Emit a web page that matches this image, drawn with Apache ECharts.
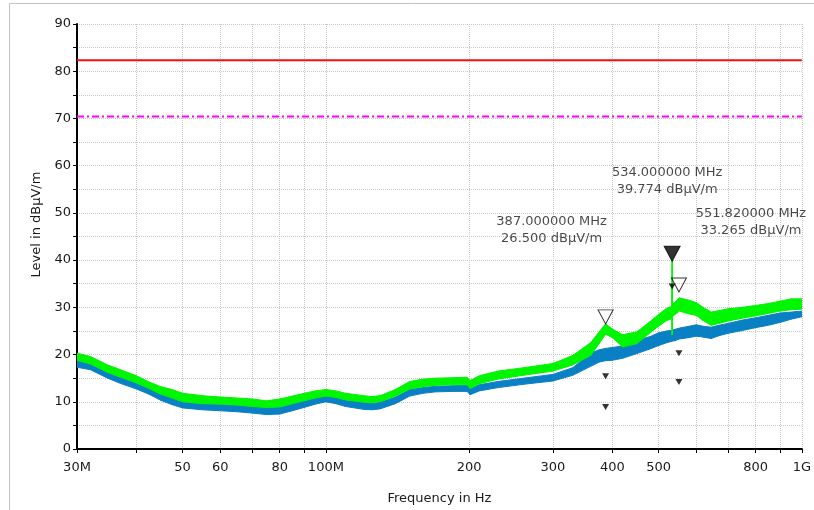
<!DOCTYPE html>
<html><head><meta charset="utf-8">
<script src="https://cdn.jsdelivr.net/npm/echarts@6.0.0/dist/echarts.min.js"></script>
<style>html,body{margin:0;padding:0;background:#fff}#c{width:814px;height:510px}</style>
</head><body><div id="c"></div>
<script>
// ---- data (frequencies in MHz, levels in dBµV/m) ----
const freqMHz = [30,32,34.8,37,40,42.5,45,47.5,50,55,60,65,70,75,80,85,90,95,100,105,110,120,125,130,140,150,160,170,185,198,201,210,230,260,300,330,360,375,387,400,420,450,480,500,520,533,534,535,540,553,580,600,620,645,670,700,750,800,850,900,950,1000];
const greenHigh = [20.3,19.6,17.8,16.8,15.5,14.2,13.2,12.6,11.8,11.3,11.0,10.8,10.6,10.2,10.6,11.2,11.8,12.3,12.6,12.3,11.8,11.3,11.1,11.3,12.6,14.3,14.8,15.0,15.1,15.2,14.5,15.5,16.5,17.2,18.1,19.8,22.5,24.8,26.5,25.4,24.2,24.8,27.0,28.5,29.8,30.2,39.8,30.8,31.0,32.0,31.5,31.0,30.0,29.0,29.3,29.7,30.0,30.4,30.8,31.3,31.8,31.8];
const greenLow  = [18.8,18.0,16.2,15.2,14.0,12.8,11.6,10.8,10.0,9.6,9.5,9.3,9.0,8.8,8.9,9.6,10.2,10.8,11.2,10.9,10.4,9.9,9.8,10.0,11.2,12.7,13.2,13.5,13.6,13.6,12.8,13.8,14.8,15.6,16.5,17.8,19.8,22.3,24.3,23.6,21.6,22.3,24.6,26.0,27.2,27.6,24.2,28.0,28.4,29.2,28.6,28.3,27.2,26.2,26.6,27.1,27.7,28.2,28.7,29.2,29.5,29.6];
const blueHigh  = [19.0,18.3,16.5,15.3,14.2,13.0,11.8,11.0,10.2,9.7,9.5,9.3,9.1,8.8,8.9,9.6,10.2,10.9,11.2,11.0,10.4,9.9,9.6,9.9,11.0,12.6,13.0,13.3,13.4,13.5,12.8,13.6,14.3,15.0,15.8,17.2,20.3,21.0,21.3,21.5,21.8,23.0,23.8,24.6,25.0,25.1,24.8,25.2,25.3,25.6,26.0,26.3,26.0,25.8,26.2,26.6,27.3,27.8,28.3,28.8,29.0,29.2];
const blueLow   = [17.3,16.8,15.0,13.9,12.7,11.6,10.3,9.4,8.7,8.3,8.1,7.9,7.6,7.3,7.4,8.1,8.8,9.5,10.0,9.6,9.0,8.4,8.3,8.5,9.6,11.2,11.8,12.1,12.2,12.2,11.5,12.3,13.0,13.7,14.4,15.6,17.5,18.4,18.7,18.8,19.2,20.2,21.2,21.9,22.5,22.8,22.8,22.9,22.9,23.3,23.6,23.9,23.7,23.4,24.0,24.5,25.1,25.7,26.2,26.8,27.5,28.0];

const limitFreq = [30, 1000];
const limitRed = [82.3, 82.3];
const limitRSS = [70.4, 70.4];
const limitRSSName = 'IC RSS123';

const tickFreq = [30,40,50,60,70,80,90,100,200,300,400,500,600,700,800,900,1000];
const labelFreq = [30,50,60,80,100,200,300,400,500,800,1000];
const labelText = ['30M','50','60','80','100M','200','300','400','500','800','1G'];

const markerFreq = [387, 534, 551.82];
const markerLevel = [26.5, 39.774, 33.265];
const markerFilled = [false, true, false];
const subMarkFreq = [387, 387, 551.82, 551.82, 534];
const subMarkLevel = [15.4, 8.9, 20.3, 14.2, 34.4];

// ---- build ----
const L = Math.log10;
const FONT = 'DejaVu Sans';
const TXT = '#1a1a1a';
const GREEN = '#00f500', BLUE = '#0a80c4';

const pts = (f, v) => f.map((x, i) => [L(x), v[i]]);
const bandRows = (lo, hi) => freqMHz.map((f, i) => [L(f), lo[i], hi[i]]);

function bandSeries(name, lo, hi, color) {
  const rows = bandRows(lo, hi);
  return {
    type: 'custom', name, data: rows, clip: true,
    encode: {x: 0, y: [1, 2]},
    renderItem: (params, api) => {
      const i = params.dataIndex;
      if (i >= rows.length - 1) return null;
      const a = rows[i], b = rows[i + 1];
      const p = [api.coord([a[0], a[2]]), api.coord([b[0], b[2]]), api.coord([b[0], b[1]]), api.coord([a[0], a[1]])];
      return {type: 'polygon', shape: {points: p}, style: {fill: color, stroke: color, lineWidth: 1}};
    }
  };
}

const markerLabelOffset = [[-54, -87], [-5, -73], [72, -63]];
const markerSize = [[15, 14], [16, 15], [15, 14]];

const markerData = markerFreq.map((f, i) => ({
  value: [L(f), markerLevel[i]],
  symbolSize: markerSize[i],
  symbolOffset: [0, -markerSize[i][1] / 2],
  itemStyle: markerFilled[i] ? {color: '#000', borderColor: '#000', borderWidth: 1}
                             : {color: 'rgba(255,255,255,0)', borderColor: '#000', borderWidth: 1},
  label: {
    show: true, position: 'inside', offset: markerLabelOffset[i],
    formatter: f.toFixed(6) + ' MHz\n' + markerLevel[i].toFixed(3) + ' dBµV/m',
    color: TXT, fontFamily: FONT, fontSize: 13, lineHeight: 17, align: 'center', verticalAlign: 'middle'
  }
}));

const chart = echarts.init(document.getElementById('c'), null, {renderer: 'canvas'});
chart.setOption({
  animation: false,
  backgroundColor: '#fff',
  graphic: [{type: 'rect', z: -10, shape: {x: 9.5, y: 3.5, width: 1200, height: 1200}, style: {fill: 'none', stroke: '#c4c4c4', lineWidth: 1}}],
  grid: {left: 77, right: 11, top: 24, bottom: 60},
  xAxis: {
    type: 'value', min: L(30), max: 3,
    name: 'Frequency in Hz', nameLocation: 'middle', nameGap: 43,
    nameTextStyle: {color: TXT, fontFamily: FONT, fontSize: 13},
    axisLine: {show: true, lineStyle: {color: '#000', width: 2}},
    axisTick: {show: true, length: 4, lineStyle: {color: '#000', width: 1}, customValues: tickFreq.map(L)},
    axisLabel: {color: TXT, fontFamily: FONT, fontSize: 13, margin: 12, customValues: labelFreq.map(L),
      formatter: v => { const i = labelFreq.indexOf(Math.round(Math.pow(10, v))); return i >= 0 ? labelText[i] : ''; }},
    splitLine: {show: true, lineStyle: {color: '#c8c8c8', type: [1, 1], width: 1}}
  },
  yAxis: {
    type: 'value', min: 0, max: 90, interval: 10,
    name: 'Level in dBµV/m', nameLocation: 'middle', nameGap: 32, nameRotate: 90,
    nameTextStyle: {color: TXT, fontFamily: FONT, fontSize: 13, padding: [0, 0, 0, 24]},
    axisLine: {show: true, lineStyle: {color: '#000', width: 2}},
    axisTick: {show: true, length: 4, lineStyle: {color: '#000'}},
    minorTick: {show: true, splitNumber: 2, length: 4, lineStyle: {color: '#000'}},
    axisLabel: {color: TXT, fontFamily: FONT, fontSize: 13, margin: 6},
    splitLine: {show: true, lineStyle: {color: '#c8c8c8', type: [1, 1]}},
    minorSplitLine: {show: true, lineStyle: {color: '#c8c8c8', type: [1, 1]}}
  },
  series: [
    bandSeries('average', blueLow, blueHigh, BLUE),
    bandSeries('peak', greenLow, greenHigh, GREEN),
    {type: 'line', name: 'limitRed', data: pts(limitFreq, limitRed), symbol: 'none',
     lineStyle: {color: '#f01010', width: 2}},
    {type: 'line', name: limitRSSName, data: pts(limitFreq, limitRSS).map((p, i) => i === 1 ? {value: p,
       label: {show: true, formatter: limitRSSName, position: 'top', distance: 3, align: 'right', offset: [7, 0],
               color: '#ff00ff', fontFamily: FONT, fontSize: 13}} : p),
     symbol: 'none', lineStyle: {color: '#ff00ff', width: 2, type: [7, 3, 2, 3]}},
    {type: 'scatter', name: 'markers', data: markerData, symbol: 'triangle', symbolRotate: 180, z: 5},
    {type: 'scatter', name: 'subMarks', data: pts(subMarkFreq, subMarkLevel), symbol: 'triangle', symbolRotate: 180,
     symbolSize: [7, 6], itemStyle: {color: '#000'}, z: 5}
  ]
});
</script></body></html>
